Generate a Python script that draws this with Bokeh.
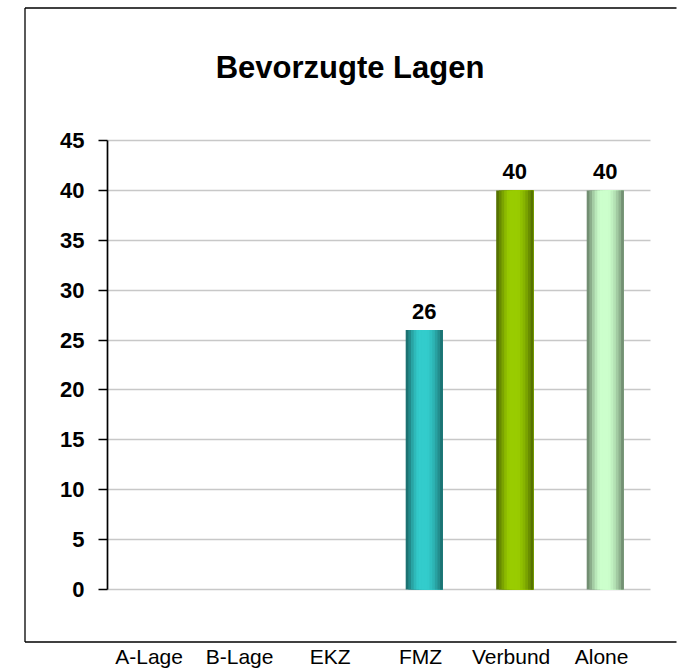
import numpy as np
from bokeh.plotting import figure
from bokeh.models import (Range1d, LinearAxis, FixedTicker, Grid, Label,
                          ColumnDataSource)
from bokeh.core.properties import value
from bokeh.embed import file_html
from bokeh.resources import INLINE

# ---------------- data ----------------
categories = ["A-Lage", "B-Lage", "EKZ", "FMZ", "Verbund", "Alone"]
values = [0, 0, 0, 26, 40, 40]
bar_colors = ["#33CCCC", "#33CCCC", "#33CCCC", "#33CCCC", "#99CC00", "#CCFFCC"]
y_ticks = [0, 5, 10, 15, 20, 25, 30, 35, 40, 45]
title_text = "Bevorzugte Lagen"

# ---------------- geometry ----------------
W, H = 681, 669
FONT = "Liberation Sans"
# canvas pixel anchors of the value axes
X0_PX, X6_PX = 107.0, 650.0     # x = 0 and x = 6
Y0_PX, Y45_PX = 589.0, 140.0    # y = 0 and y = 45
sx = (X6_PX - X0_PX) / 6.0
sy = (Y0_PX - Y45_PX) / 45.0
x_start = -X0_PX / sx
x_end = 6 + (W - X6_PX) / sx
y_end = 45 + Y45_PX / sy
y_start = -(H - Y0_PX) / sy


def xd(px):
    return (px - X0_PX) / sx


def yd(py):
    return (Y0_PX - py) / sy


BOX_LEFT_PX, BOX_TOP_PX, BOX_BOTTOM_PX, BOX_RIGHT_PX = 24.5, 7.5, 641.5, 676.0

p = figure(width=W, height=H, x_range=Range1d(x_start, x_end),
           y_range=Range1d(y_start, y_end), output_backend="svg",
           toolbar_location=None, x_axis_type=None, y_axis_type=None,
           min_border=0, min_border_left=0, min_border_right=0,
           min_border_top=0, min_border_bottom=0,
           outline_line_color=None, background_fill_color="white",
           border_fill_color="white")

# outer chart border (open to the right like the reference: top, left, bottom)
bl, bt, bb, br = xd(BOX_LEFT_PX), yd(BOX_TOP_PX), yd(BOX_BOTTOM_PX), xd(BOX_RIGHT_PX)
p.segment(x0=[bl, bl, bl], y0=[bt, bt, bb], x1=[br, bl, br], y1=[bt, bb, bb],
          line_color="black", line_width=1.3)

# horizontal grid lines
ncat = len(categories)
grid_kwargs = dict(dimension=1, ticker=FixedTicker(ticks=y_ticks),
                   grid_line_color="#c8c8c8", grid_line_width=1.6)
if "cross_bounds" in Grid.properties():
    g = Grid(cross_bounds=(0, ncat), **grid_kwargs)
    p.add_layout(g)
else:
    p.segment(x0=[0] * len(y_ticks), x1=[ncat] * len(y_ticks), y0=y_ticks, y1=y_ticks,
              line_color="#c8c8c8", line_width=1.6)

# bars, drawn as overlapping bands to emulate the cylinder shading
BAR_W = 0.41
NSTRIP = 14
prof_t = [0.0, 0.10, 0.22, 0.34, 0.60, 0.74, 0.88, 1.0]
prof_d = [0.50, 0.33, 0.12, 0.0, 0.0, 0.10, 0.28, 0.50]


def shade(hexcol, d):
    r, g_, b = (int(hexcol[i:i + 2], 16) for i in (1, 3, 5))
    f = 1.0 - d
    return "#%02x%02x%02x" % (int(r * f), int(g_ * f), int(b * f))


ql, qr, qt, qc = [], [], [], []
for i, (v, c) in enumerate(zip(values, bar_colors)):
    if v <= 0:
        continue
    left = i + 0.5 - BAR_W / 2
    right = i + 0.5 + BAR_W / 2
    for k in range(NSTRIP):
        t = (k + 0.5) / NSTRIP
        ql.append(left + k * BAR_W / NSTRIP)
        qr.append(right)
        qt.append(v)
        qc.append(shade(c, float(np.interp(t, prof_t, prof_d))))
src = ColumnDataSource(dict(left=ql, right=qr, top=qt, color=qc))
p.quad(left="left", right="right", top="top", bottom=0, fill_color="color",
       line_color=None, source=src)

# value labels above bars
lx = [i + 0.5 for i, v in enumerate(values) if v > 0]
ly = [v for v in values if v > 0]
lt = [str(v) for v in values if v > 0]
p.text(x=lx, y=ly, text=lt, text_align="center", text_baseline="alphabetic",
       y_offset=-19, text_font=value(FONT), text_font_style="bold",
       text_font_size="22px", text_color="black")

# y axis
yaxis = LinearAxis(fixed_location=0, bounds=(0, 45),
                   ticker=FixedTicker(ticks=y_ticks, minor_ticks=[]),
                   major_tick_in=0, major_tick_out=9, minor_tick_in=0, minor_tick_out=0,
                   axis_line_color="black", axis_line_width=1.7,
                   major_tick_line_color="black", major_tick_line_width=1.7,
                   major_label_standoff=14, major_label_text_font=FONT,
                   major_label_text_font_size="22px",
                   major_label_text_font_style="bold",
                   major_label_text_color="black")
p.add_layout(yaxis, "left")

# category axis (labels below the chart border)
LABEL_SHIFT = 0.04
cat_ticks = [i + 0.5 - LABEL_SHIFT for i in range(ncat)]
xaxis = LinearAxis(fixed_location=yd(BOX_BOTTOM_PX),
                   ticker=FixedTicker(ticks=cat_ticks, minor_ticks=[]),
                   major_label_overrides={t: c for t, c in zip(cat_ticks, categories)},
                   axis_line_color=None, major_tick_line_color=None,
                   minor_tick_line_color=None, major_tick_in=0, major_tick_out=0,
                   minor_tick_in=0, minor_tick_out=0, major_label_standoff=3,
                   major_label_text_font=FONT, major_label_text_font_size="21px",
                   major_label_text_color="black")
p.add_layout(xaxis, "below")

# title
title = Label(x=xd(349.5), y=yd(67.3), text=title_text, text_align="center",
              text_baseline="alphabetic", text_font=FONT, text_font_style="bold",
              text_font_size="31px", text_color="black")
p.add_layout(title)

open("out.html", "w").write(file_html(p, INLINE))
